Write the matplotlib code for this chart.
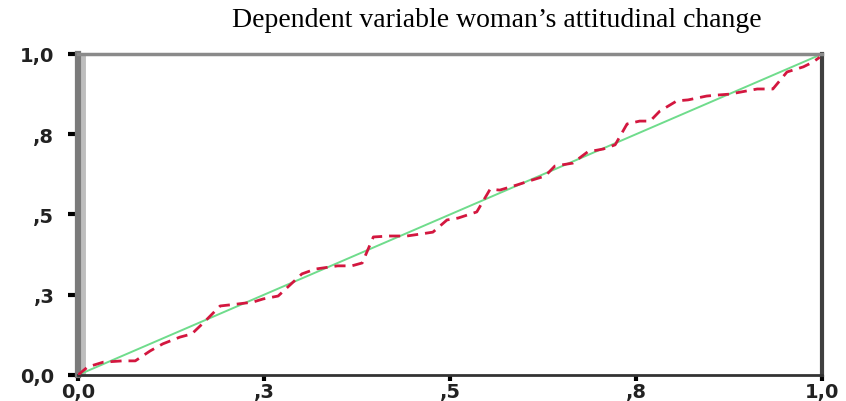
import matplotlib
matplotlib.use("Agg")
import matplotlib.pyplot as plt

title = "Dependent variable woman\u2019s attitudinal change"
tick_values = [0.0, 0.25, 0.5, 0.75, 1.0]
x_tick_labels = ["0,0", ",3", ",5", ",8", "1,0"]
y_tick_labels = ["0,0", ",3", ",5", ",8", "1,0"]

# Observed cumulative probability (x) vs expected cumulative probability (y)
obs_cum = [0.0, 0.013, 0.034, 0.06, 0.077, 0.097, 0.114, 0.137, 0.153, 0.171, 0.191,
           0.214, 0.235, 0.249, 0.269, 0.301, 0.319, 0.349, 0.368, 0.382, 0.397,
           0.419, 0.442, 0.46, 0.477, 0.496, 0.511, 0.536, 0.554, 0.567, 0.59,
           0.61, 0.628, 0.641, 0.665, 0.685, 0.706, 0.722, 0.738, 0.755, 0.769,
           0.782, 0.805, 0.82, 0.845, 0.859, 0.876, 0.892, 0.913, 0.934, 0.953,
           0.975, 0.988, 0.997]
exp_cum = [0.0, 0.025, 0.04, 0.044, 0.044, 0.075, 0.097, 0.118, 0.128, 0.168, 0.215,
           0.221, 0.227, 0.237, 0.246, 0.315, 0.330, 0.340, 0.340, 0.349, 0.430,
           0.433, 0.433, 0.439, 0.445, 0.483, 0.489, 0.508, 0.579, 0.576, 0.592,
           0.607, 0.62, 0.651, 0.66, 0.695, 0.704, 0.717, 0.782, 0.791, 0.791,
           0.822, 0.854, 0.857, 0.869, 0.872, 0.875, 0.882, 0.891, 0.891, 0.944,
           0.96, 0.975, 0.99]
diag = [0.0, 1.0]

fig = plt.figure(figsize=(8.46, 4.02), dpi=100)
ax = fig.add_axes([0.0922, 0.0647, 0.8794, 0.7985])

ax.plot(diag, diag, color="#6fdc8c", lw=1.4, zorder=2)
ax.plot(obs_cum, exp_cum, color="#d3173f", lw=2.0, ls=(0, (4, 2.5)), zorder=3)

ax.set_xlim(0, 1)
ax.set_ylim(0, 1)
ax.set_xticks(tick_values)
ax.set_yticks(tick_values)
ax.set_xticklabels(x_tick_labels)
ax.set_yticklabels(y_tick_labels)
ax.tick_params(axis="both", direction="out", color="black", width=3,
               labelsize=14)
ax.tick_params(axis="y", length=7, pad=10)
ax.tick_params(axis="x", length=4, pad=1)
for lbl in ax.get_xticklabels() + ax.get_yticklabels():
    lbl.set_fontweight("bold")
    lbl.set_color("#222222")

# Left frame: dark grey stripe plus light grey inner stripe
ax.spines["left"].set_color("#7a7a7a")
ax.spines["left"].set_linewidth(4.5)
ax.axvline(0.0072, color="#bdbdbd", lw=3.5, zorder=1)
ax.spines["top"].set_color("#8a8a8a")
ax.spines["top"].set_linewidth(2.5)
ax.spines["right"].set_color("#404040")
ax.spines["right"].set_linewidth(3)
ax.spines["bottom"].set_color("#333333")
ax.spines["bottom"].set_linewidth(2)

fig.text(0.587, 0.95, title, ha="center", va="center",
         family="Liberation Serif", fontsize=20)

fig.savefig("out.png", dpi=100)
